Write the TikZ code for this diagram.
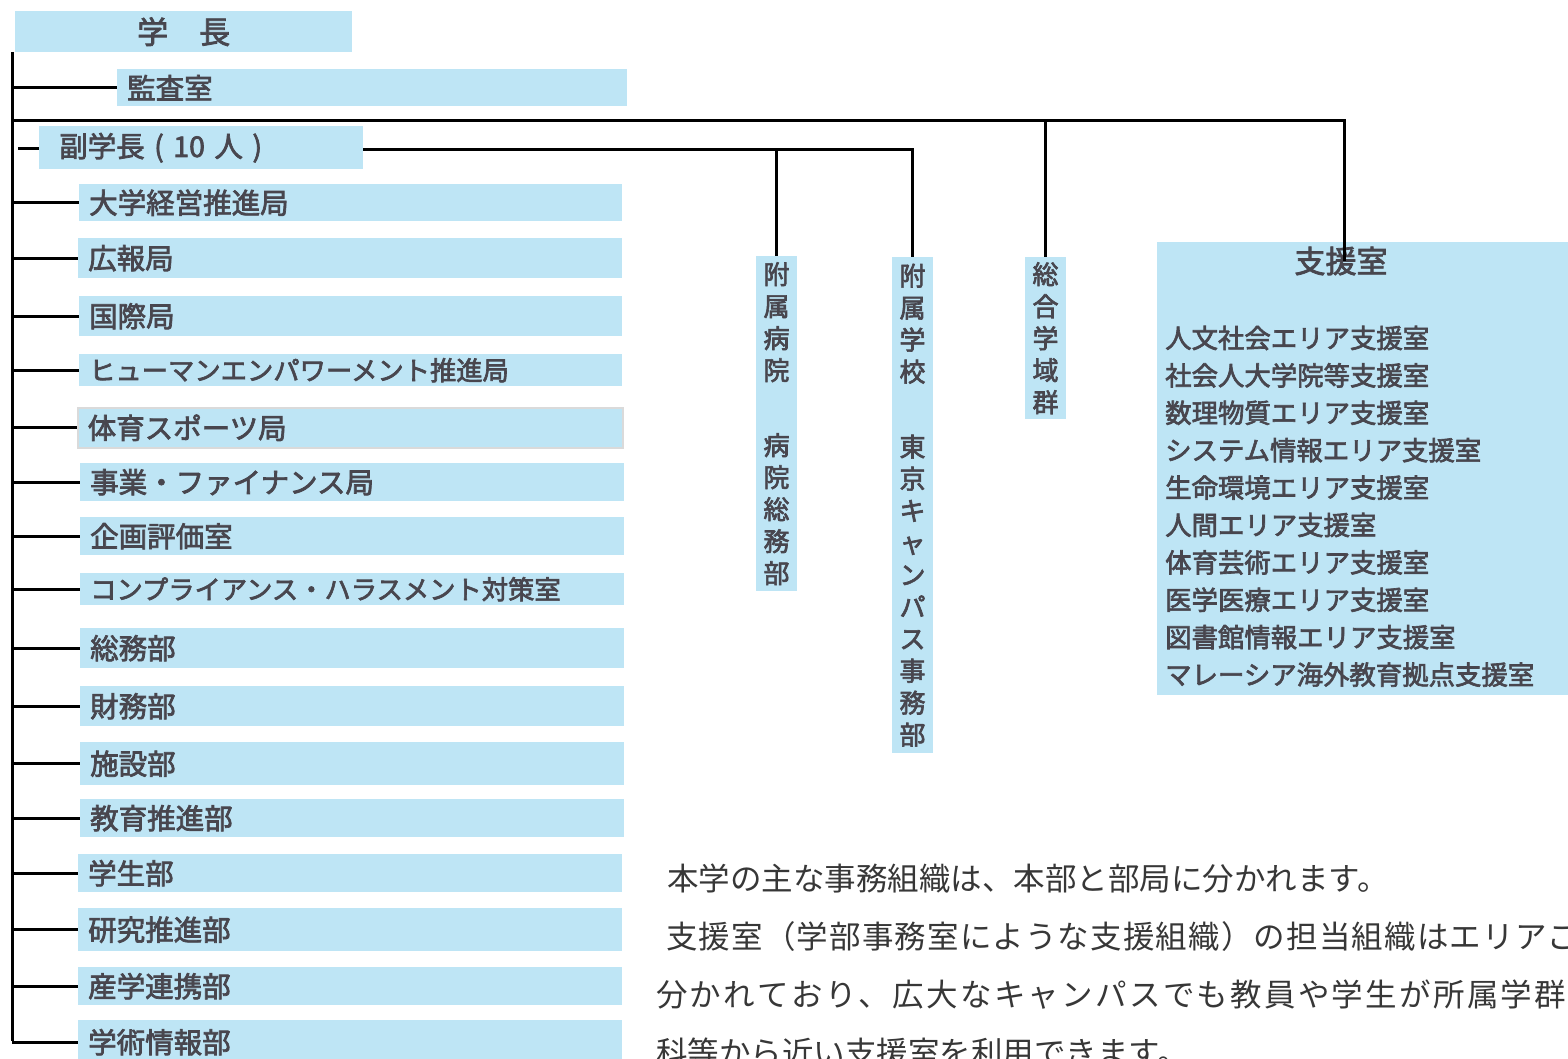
\documentclass[tikz,border=0pt]{standalone}
\usepackage{fontspec}
\setmainfont{Noto Sans CJK JP}
\newfontfamily\bxf[FakeBold=2.5]{Noto Sans CJK JP}
\definecolor{boxblue}{RGB}{190,229,245}
\definecolor{boxtext}{RGB}{72,70,78}
\definecolor{paratext}{RGB}{55,55,55}
\newcommand\szA{\bxf\fontsize{28.5}{32}\selectfont}
\newcommand\szB{\bxf\fontsize{26.3}{30}\selectfont}
\tikzset{
  orgbx/.style={fill=boxblue, text=boxtext, inner xsep=10pt, inner ysep=0pt, align=left, font=\szA},
  vbx/.style={fill=boxblue, text=boxtext, align=center, inner sep=0pt, minimum width=41pt, font=\bxf\fontsize{26}{32}\selectfont, anchor=north},
  conn/.style={draw=black, line width=3pt},
  paraline/.style={text=paratext, inner sep=0pt, anchor=base west, font=\fontsize{31.5}{36}\selectfont},
  shienitem/.style={text=boxtext, inner sep=0pt, anchor=base west, font=\bxf\fontsize{26.4}{30}\selectfont}
}
\newcommand\orgbox[7][]{%
  \pgfmathsetmacro\obh{#6-#4}\pgfmathsetmacro\obt{#5-#3-20}%
  \node[orgbx,#1, minimum height=\obh pt, text width=\obt pt, anchor=north west] (#2) at (#3,#4) {#7};}
\begin{document}
\begin{tikzpicture}[x=1pt,y=-1pt]
\useasboundingbox (0,0) rectangle (1568,1059);
\clip (0,0) rectangle (1568,1059);
% president
\node[fill=boxblue, text=boxtext, inner sep=0pt, minimum width=337pt, minimum height=41pt, anchor=north west, font=\bxf\fontsize{31}{34}\selectfont] (gakucho) at (15,11) {学　長};
% left column boxes
\orgbox{kansa}{117}{69}{627}{106}{監査室}
\orgbox{vp}{39}{126}{363}{169}{\hspace{10pt}副学長 ( 10 人 )}
\orgbox{b1}{79}{184}{622}{221}{大学経営推進局}
\orgbox{b2}{78}{238}{622}{278}{広報局}
\orgbox{b3}{79}{296}{622}{336}{国際局}
\orgbox{b4}{79}{354}{622}{386}{\szB ヒューマンエンパワーメント推進局}
\orgbox[draw={rgb,255:red,218;green,218;blue,218}, line width=1.5pt]{b5}{77}{407}{622}{447}{体育スポーツ局}
\orgbox{b6}{80}{463}{624}{501}{事業・ファイナンス局}
\orgbox{b7}{80}{517}{624}{555}{企画評価室}
\orgbox{b8}{80}{573}{624}{605}{\szB コンプライアンス・ハラスメント対策室}
\orgbox{b9}{80}{628}{624}{668}{総務部}
\orgbox{b10}{80}{686}{624}{726}{財務部}
\orgbox{b11}{80}{742}{624}{785}{施設部}
\orgbox{b12}{80}{799}{624}{837}{教育推進部}
\orgbox{b13}{78}{854}{622}{892}{学生部}
\orgbox{b14}{78}{908}{622}{951}{研究推進部}
\orgbox{b15}{78}{967}{622}{1005}{産学連携部}
\orgbox{b16}{78}{1020}{622}{1064}{学術情報部}
% vertical boxes
\node[vbx, minimum height=335pt] (byoin) at (776.5,256) {附\\属\\病\\院\\[43pt]病\\院\\総\\務\\部};
\node[vbx, minimum height=496pt] (gakko) at (912.5,257) {附\\属\\学\\校\\[43pt]東\\京\\キ\\ャ\\ン\\パ\\ス\\事\\務\\部};
\node[vbx, minimum height=162pt] (sogo) at (1045.5,257) {総\\合\\学\\域\\群};
% support office
\node[fill=boxblue, inner sep=0pt, minimum width=430pt, minimum height=453pt, anchor=north west] (shienbox) at (1157,242) {};
\node[text=boxtext, inner sep=0pt, font=\bxf\fontsize{31}{34}\selectfont] (shientitle) at (1341,261) {支援室};
\foreach \t [count=\i from 0] in {人文社会エリア支援室,社会人大学院等支援室,数理物質エリア支援室,システム情報エリア支援室,生命環境エリア支援室,人間エリア支援室,体育芸術エリア支援室,医学医療エリア支援室,図書館情報エリア支援室,マレーシア海外教育拠点支援室}
  \node[shienitem] (s\i) at (1165,348+37.4*\i) {\t};
% paragraph
\node[paraline] (p1) at (667,890) {本学の主な事務組織は、本部と部局に分かれます。};
\node[paraline] (p2) at (666,948) {\makebox[913pt][l]{支\hfill 援\hfill 室\hfill （\hfill 学\hfill 部\hfill 事\hfill 務\hfill 室\hfill に\hfill よ\hfill う\hfill な\hfill 支\hfill 援\hfill 組\hfill 織\hfill ）\hfill の\hfill 担\hfill 当\hfill 組\hfill 織\hfill は\hfill エ\hfill リ\hfill ア\hfill ご}};
\node[paraline] (p3) at (656,1006) {\makebox[910pt][l]{分\hfill か\hfill れ\hfill て\hfill お\hfill り\hfill 、\hfill 広\hfill 大\hfill な\hfill キ\hfill ャ\hfill ン\hfill パ\hfill ス\hfill で\hfill も\hfill 教\hfill 員\hfill や\hfill 学\hfill 生\hfill が\hfill 所\hfill 属\hfill 学\hfill 群}};
\node[paraline] (p4) at (656,1064) {科等から近い支援室を利用できます。};
% connectors
\coordinate (trunkTop) at (12,52);
\coordinate (trunkBot) at (12,1041);
\coordinate (vpstub) at (18,149);
\coordinate (longL) at (12,121);
\coordinate (longR) at (1344,121);
\coordinate (vpR) at (911,150);
\draw[conn] (trunkTop) -- (trunkBot);
\foreach \b in {kansa,b1,b2,b3,b4,b5,b6,b7,b8,b9,b10,b11,b12,b13,b14,b15,b16}
  \draw[conn] (\b.west -| trunkTop) -- (\b.west);
\draw[conn] (vpstub) -- (vpstub -| vp.west);
\draw[conn] (longL) -- (longR) -- (longR |- shientitle);
\draw[conn] (sogo.north |- longL) -- (sogo.north);
\draw[conn] (vp.east |- vpR) -- (gakko.north |- vpR) -- (gakko.north);
\draw[conn] (byoin.north |- vpR) -- (byoin.north);
\end{tikzpicture}
\end{document}
